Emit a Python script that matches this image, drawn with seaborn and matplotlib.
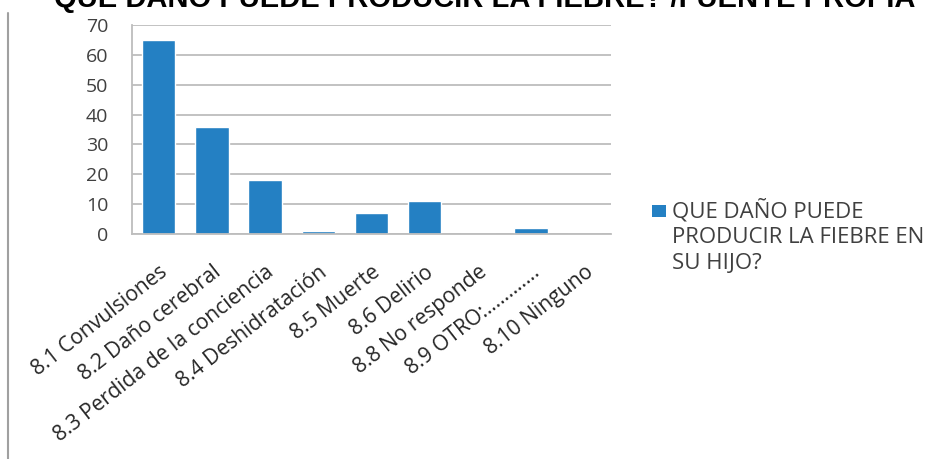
import matplotlib
matplotlib.use("Agg")
import matplotlib.pyplot as plt
import seaborn as sns
import pandas as pd
from matplotlib.lines import Line2D
from matplotlib.patches import Rectangle

categories = ["8.1 Convulsiones", "8.2 Daño cerebral", "8.3 Perdida de la conciencia",
              "8.4 Deshidratación", "8.5 Muerte", "8.6 Delirio", "8.8 No responde",
              "8.9 OTRO:…………", "8.10 Ninguno"]
values = [65, 36, 18, 1, 7, 11, 0, 2, 0]
series_name = "QUE DAÑO PUEDE\nPRODUCIR LA FIEBRE EN\nSU HIJO?"
title = "QUE DAÑO PUEDE PRODUCIR LA FIEBRE? /FUENTE PROPIA"
yticks = [0, 10, 20, 30, 40, 50, 60, 70]

BAR_COLOR = "#2480C3"
W, H = 935, 459

sns.set_style("white")
plt.rcParams['font.family'] = ['Open Sans', 'DejaVu Sans']

df = pd.DataFrame({"cat": categories, "val": values, "serie": series_name})

fig = plt.figure(figsize=(W / 100, H / 100), dpi=100)
ax = fig.add_axes([132 / W, 1 - 234 / H, 479 / W, 209 / H])
sns.barplot(data=df, x="cat", y="val", hue="serie", palette=[BAR_COLOR],
            width=0.63, ax=ax, legend=False, saturation=1)

ax.set_ylim(0, 70)
ax.set_yticks(yticks)
ax.set_xlim(-0.5, len(categories) - 0.5)
ax.yaxis.grid(True, color="#BDBDBD", linewidth=1.3)
ax.set_axisbelow(True)
ax.spines["right"].set_visible(False)
ax.spines["top"].set_visible(False)
ax.spines["left"].set_color("#BDBDBD")
ax.spines["bottom"].set_color("#BDBDBD")
ax.spines["left"].set_linewidth(1.3)
ax.spines["bottom"].set_linewidth(1.3)
ax.set_xlabel("")
ax.set_ylabel("")
ax.tick_params(axis="y", labelsize=14, colors="#404040", length=0, pad=17)
ax.tick_params(axis="x", length=0, pad=20)
ax.set_xticks(range(len(categories)))
ax.set_xticklabels(categories, rotation=38, ha="right", va="top",
                   rotation_mode="anchor", fontsize=15.2, color="#262626")

# legend
fig.patches.append(Rectangle((652 / W, 1 - 217 / H), 14 / W, 12 / H,
                             transform=fig.transFigure, facecolor=BAR_COLOR,
                             edgecolor="none"))
fig.text(672 / W, 1 - 199 / H, series_name, ha="left", va="top",
         fontsize=16, color="#404040", linespacing=1.3)

fig.text(485 / W, 1 - 7 / H, title, ha="center", va="baseline",
         fontsize=21, fontweight="bold", color="black",
         family=["Liberation Sans", "DejaVu Sans"])

fig.add_artist(Line2D([8 / W, 8 / W], [0, 1 - 13 / H], color="#A0A0A0",
                      linewidth=1.5, transform=fig.transFigure))

fig.savefig("out.png", dpi=100)
